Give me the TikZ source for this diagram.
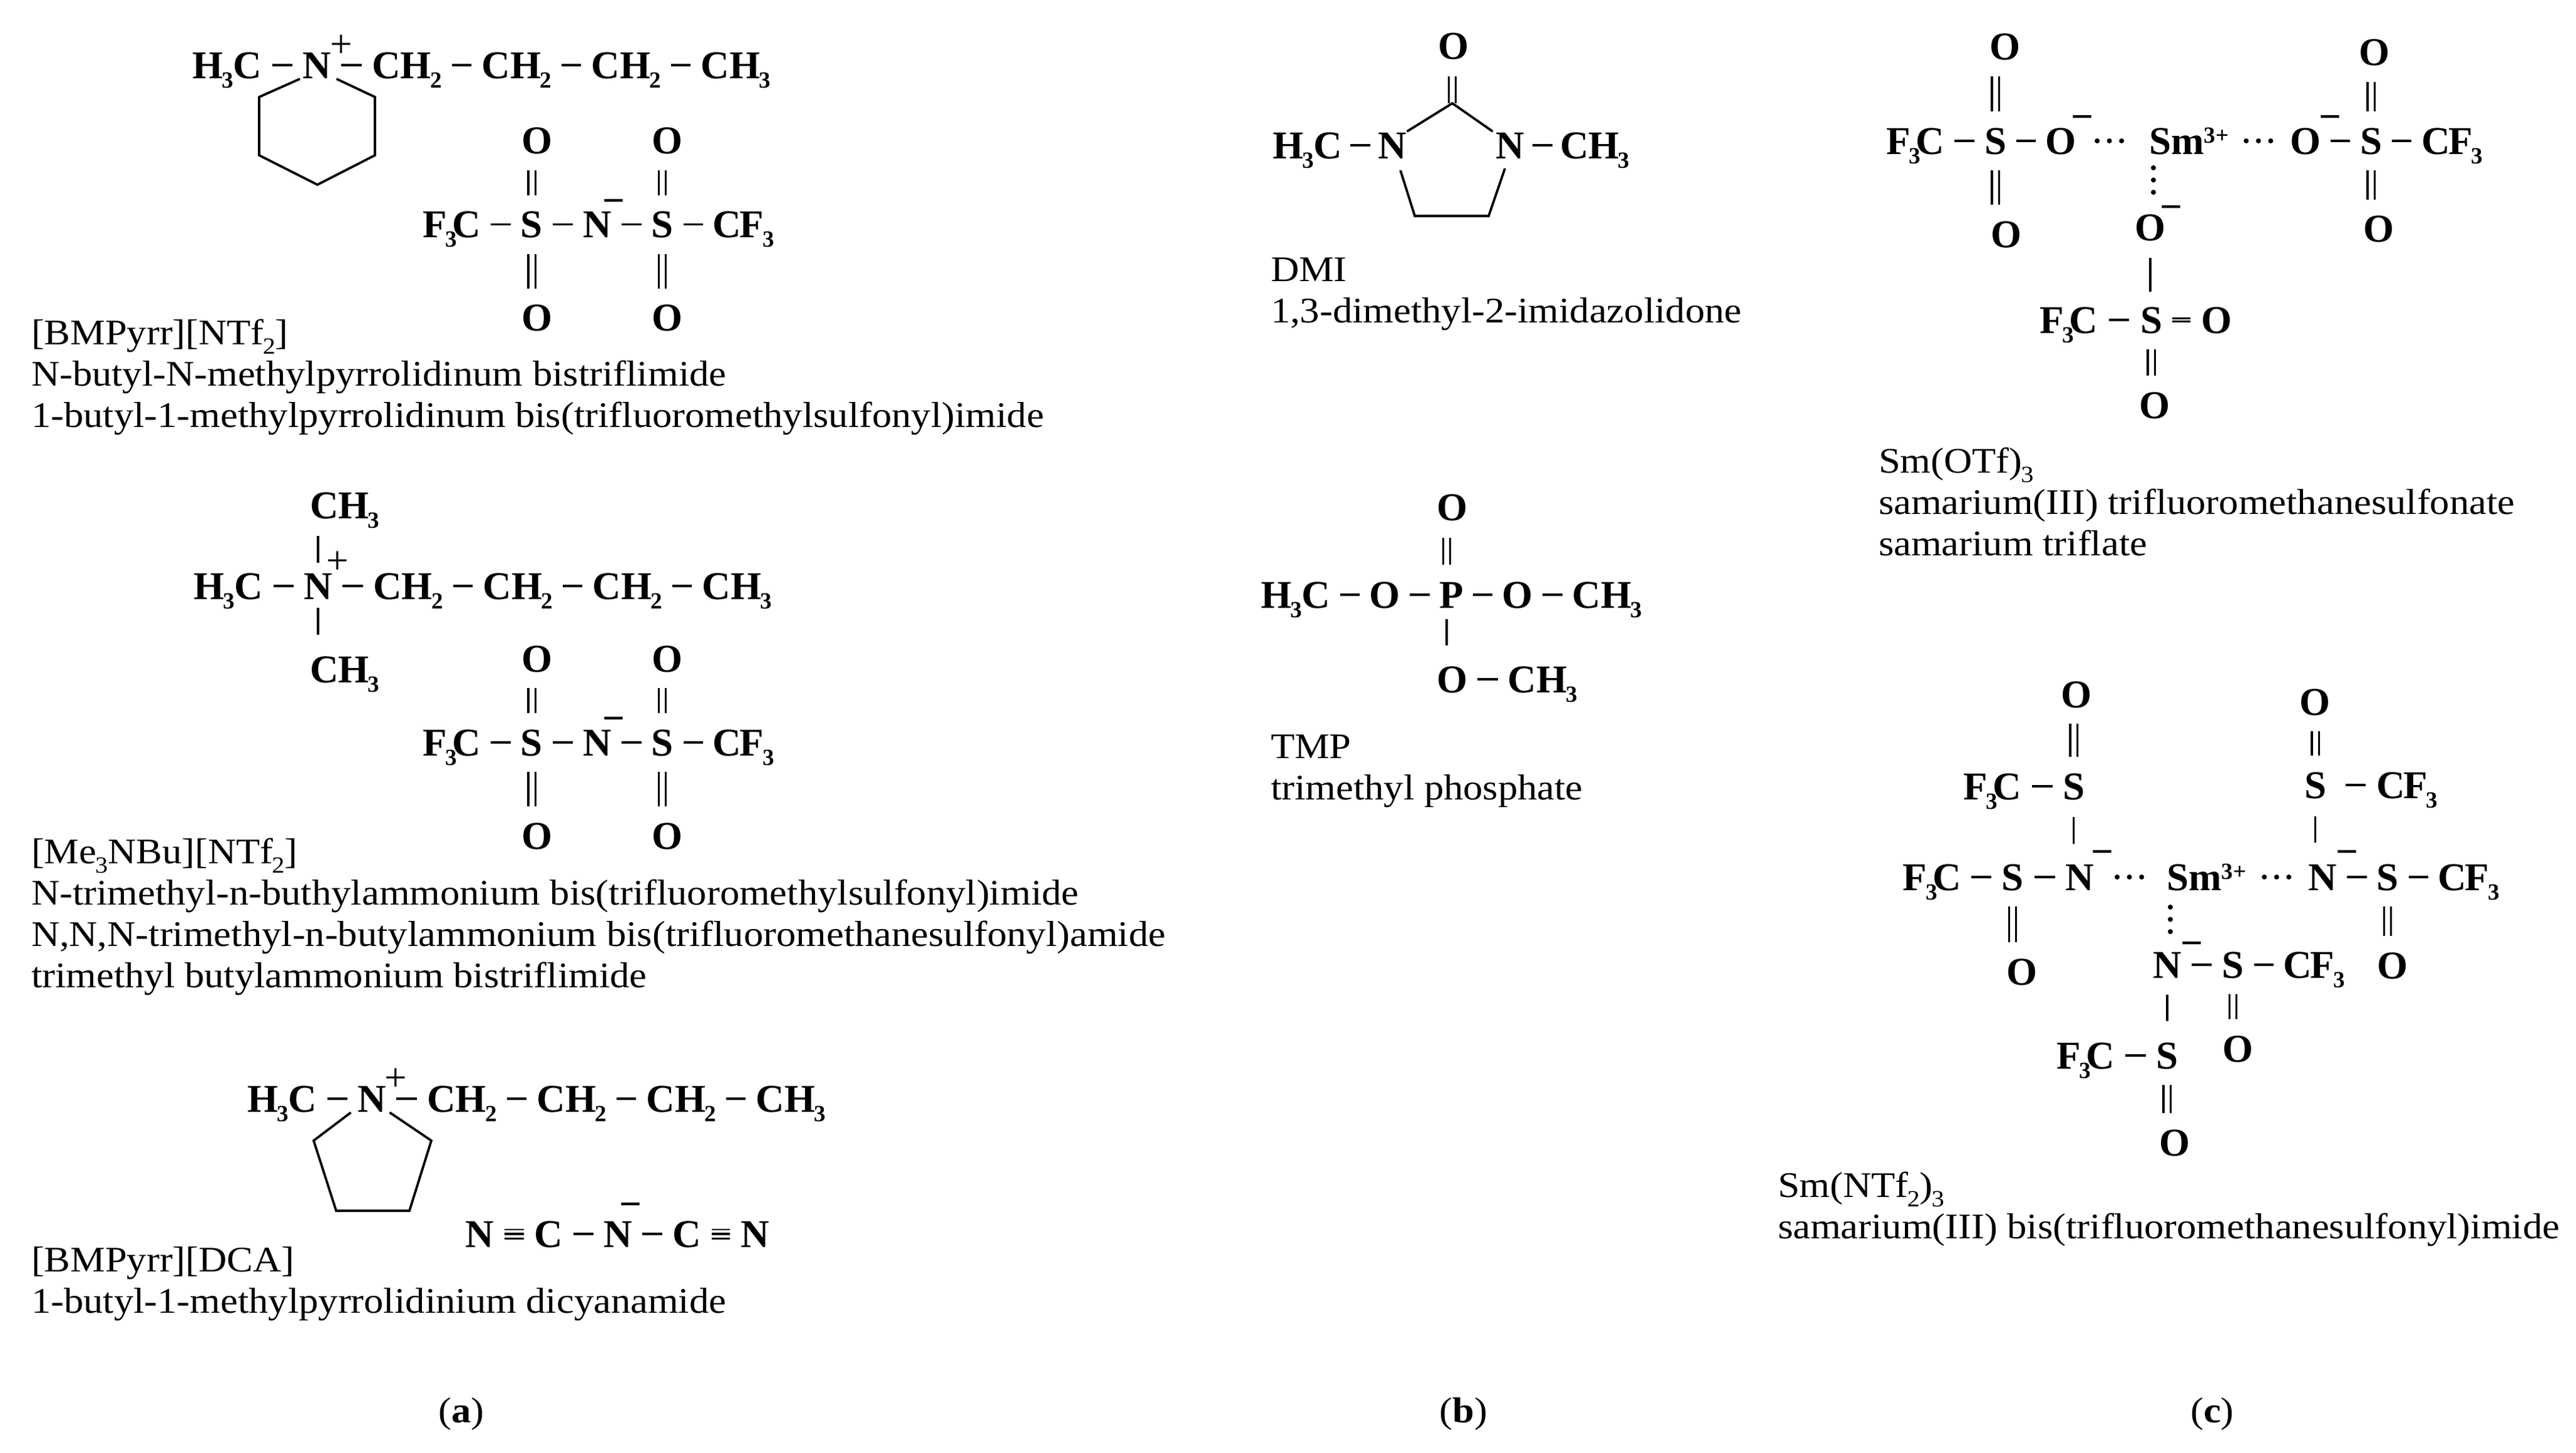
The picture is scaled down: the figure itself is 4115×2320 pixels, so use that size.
\documentclass[tikz,border=0pt]{standalone}
\usepackage{fontspec}
\setmainfont{Liberation Serif}[FakeStretch=1.088]
\newfontfamily\chemfont{Liberation Serif}
\usetikzlibrary{positioning}

\newcommand{\lowr}[1]{\kern-.4pt\raisebox{-3pt}{\fontsize{7.4}{7.4}\selectfont #1}}
\newcommand{\highr}[1]{\raisebox{3.6pt}{\fontsize{7.4}{7.4}\selectfont #1}}

\tikzset{
  atom/.style={font=\chemfont\bfseries\fontsize{12.6}{14}\selectfont, text height=8.4pt, text depth=0pt, inner sep=0pt},
  chgm/.style={font=\chemfont\bfseries\fontsize{12.6}{14}\selectfont, text height=6.6pt, text depth=0pt, inner sep=0pt},
  chgp/.style={font=\chemfont\fontsize{12.6}{14}\selectfont, inner sep=0pt},
  lbl/.style={font=\fontsize{11.5}{13.2}\selectfont, anchor=base west, inner sep=0pt, align=left},
  sbond/.style={line width=.7pt},
  bond/.style={line width=.7pt, shorten <=#1, shorten >=#1},
  bond/.default=3.1pt,
  dbond/.style={double, double distance=1.6pt, line width=.65pt, shorten <=#1, shorten >=#1},
  dbond/.default=5pt,
  tbond/.style={double, double distance=2.4pt, line width=.5pt, shorten <=3.2pt, shorten >=3.2pt},
  ring/.style={line width=.75pt, line join=miter},
  dots/.style={line width=1.6pt, line cap=round, dash pattern=on .01pt off 3.9pt}
}

\begin{document}
\begin{tikzpicture}[x=.2pt, y=-.2pt]
    \useasboundingbox (0,0) rectangle (4115,2320);

    % (a) cations
    \node [atom, anchor=west] (hca) at (306,104) {H\lowr{3}C};
    \node [atom, right=12.6pt of hca] (na) {N};
    \node [atom, anchor=west] (hcb) at (308,936) {H\lowr{3}C};
    \node [atom, right=12.6pt of hcb] (nb) {N};
    \node [atom, anchor=west] (hcc) at (394,1755) {H\lowr{3}C};
    \node [atom, right=12.6pt of hcc] (nc) {N};
    \foreach \p in {a,b,c} {
        \node [atom, right=12.8pt of n\p] (cha\p) {CH\lowr{2}};
        \node [atom, right=12.4pt of cha\p] (chb\p) {CH\lowr{2}};
        \node [atom, right=12.4pt of chb\p] (chc\p) {CH\lowr{2}};
        \node [atom, right=12.4pt of chc\p] (chd\p) {CH\lowr{3}};
        \draw [bond] (hc\p) -- (n\p);
        \draw [bond] (n\p) -- (cha\p);
        \draw [bond] (cha\p) -- (chb\p);
        \draw [bond] (chb\p) -- (chc\p);
        \draw [bond] (chc\p) -- (chd\p);
    }
    \node [chgp, xshift=3.2pt, yshift=1.6pt] (pa) at (na.north east) {+};
    \node [chgp, xshift=1.6pt, yshift=3pt] (pb) at (nb.north east) {+};
    \node [chgp, xshift=2.9pt, yshift=1.6pt] (pc) at (nc.north east) {+};

    % piperidine ring
    \coordinate (rb) at (414,155);
    \coordinate (rc) at (414,248);
    \coordinate (rd) at (507,295);
    \coordinate (re) at (599,248);
    \coordinate (rf) at (599,155);
    \draw [ring] ([xshift=-.6pt]na.south west) -- (rb) -- (rc) -- (rd) -- (re) -- (rf) -- ([xshift=1.6pt]na.south east);

    % methyls on the ammonium
    \node [atom, anchor=west] (mup) at (494,807) {CH\lowr{3}};
    \node [atom, anchor=west] (mdn) at (494,1069) {CH\lowr{3}};
    \draw [sbond, shorten <=3pt, shorten >=5.4pt] (nb.north) -- (nb.north |- mup.south);
    \draw [sbond, shorten <=2.6pt, shorten >=6.6pt] (nb.south) -- (nb.south |- mdn.north);

    % pyrrolidine ring
    \coordinate (sb) at (501,1822);
    \coordinate (sc) at (537,1934);
    \coordinate (sd) at (654,1934);
    \coordinate (se) at (689,1822);
    \draw [ring] ([xshift=-1.9pt]nc.south west) -- (sb) -- (sc) -- (sd) -- (se) -- ([xshift=1pt]nc.south east);

    % (a) bistriflimide anions
    \foreach \p/\yy in {a/358.5,b/1186} {
        \node [atom, anchor=west] (fl\p) at (674,\yy) {F\lowr{3}\kern-1.5pt C};
        \node [atom, right=12.4pt of fl\p] (sl\p) {S};
        \node [atom, right=12.4pt of sl\p] (nm\p) {N};
        \node [atom, right=12.4pt of nm\p] (sr\p) {S};
        \node [atom, right=12.2pt of sr\p] (fr\p) {C\kern-.5pt F\lowr{3}};
        \node [atom, above=18pt of sl\p, xshift=1.6pt] (olu\p) {O};
        \node [atom, below=21pt of sl\p, xshift=1.6pt] (old\p) {O};
        \node [atom, above=18pt of sr\p, xshift=1.6pt] (oru\p) {O};
        \node [atom, below=21pt of sr\p, xshift=1.6pt] (ord\p) {O};
        \node [chgm, xshift=.6pt, yshift=2.4pt] (mi\p) at (nm\p.north east) {−};
        \draw [bond=3pt] (fl\p) -- (sl\p);
        \draw [bond=3pt] (sl\p) -- (nm\p);
        \draw [bond=3pt] (nm\p) -- (sr\p);
        \draw [bond=3pt] (sr\p) -- (fr\p);
        \draw [dbond] (sl\p.north) -- (sl\p.north |- olu\p.south);
        \draw [dbond] (sl\p.south) -- (sl\p.south |- old\p.north);
        \draw [dbond] (sr\p.north) -- (sr\p.north |- oru\p.south);
        \draw [dbond] (sr\p.south) -- (sr\p.south |- ord\p.north);
    }

    % (a) dicyanamide
    \node [atom, anchor=west] (dna) at (742,1971) {N};
    \node [atom, right=12.6pt of dna] (dca) {C};
    \node [atom, right=12.6pt of dca] (dnb) {N};
    \node [atom, right=12.6pt of dnb] (dcb) {C};
    \node [atom, right=12.2pt of dcb] (dnc) {N};
    \node [chgm, xshift=-.6pt, yshift=4.2pt] (dmi) at (dnb.north east) {−};
    \draw [tbond] (dna) -- (dca);
    \draw [bond=3.2pt] (dna) -- (dca);
    \draw [bond] (dca) -- (dnb);
    \draw [bond] (dnb) -- (dcb);
    \draw [tbond] (dcb) -- (dnc);
    \draw [bond=3.2pt] (dcb) -- (dnc);

    % (a) labels
    \node [lbl] (la) at (49,682.5) {[BMPyrr][NTf\lowr{2}]\\N-butyl-N-methylpyrrolidinum bistriflimide\\1-butyl-1-methylpyrrolidinum bis(trifluoromethylsulfonyl)imide};
    \node [lbl] (lb) at (49,1577) {[Me\lowr{3}NBu][NTf\lowr{2}]\\N-trimethyl-n-buthylammonium bis(trifluoromethylsulfonyl)imide\\N,N,N-trimethyl-n-butylammonium bis(trifluoromethanesulfonyl)amide\\trimethyl butylammonium bistriflimide};
    \node [lbl] (lc) at (49,2097) {[BMPyrr][DCA]\\1-butyl-1-methylpyrrolidinium dicyanamide};

    % (b) DMI
    \node [atom, anchor=west] (ihc) at (2032,232) {H\lowr{3}C};
    \node [atom, right=11pt of ihc] (ina) {N};
    \node [atom, right=28.2pt of ina] (inb) {N};
    \node [atom, right=11pt of inb] (ich) {CH\lowr{3}};
    \node [atom] (ioo) at (2322,73.5) {O};
    \coordinate (icc) at (2320,165);
    \coordinate (ira) at (2237,272);
    \coordinate (irb) at (2260,345);
    \coordinate (irc) at (2378,345);
    \coordinate (ird) at (2404,269);
    \draw [bond=2.3pt] (ihc) -- (ina);
    \draw [bond=2.3pt] (inb) -- (ich);
    \draw [dbond=0pt, shorten >=5.3pt] (icc) -- (icc |- ioo.south);
    \draw [ring] (ina.north east) -- (icc) -- ([xshift=-.8pt]inb.north west);
    \draw [ring] (ira) -- (irb) -- (irc) -- (ird);
    \node [lbl] (ld) at (2029,515) {DMI\\1,3-dimethyl-2-imidazolidone};

    % (b) TMP
    \node [atom, anchor=west] (thc) at (2013,950) {H\lowr{3}C};
    \node [atom, right=12pt of thc] (toa) {O};
    \node [atom, right=12.2pt of toa] (tpp) {P};
    \node [atom, right=12pt of tpp] (tob) {O};
    \node [atom, right=12.2pt of tob] (tca) {CH\lowr{3}};
    \node [atom] (too) at (2320,810) {O};
    \node [atom] (toc) at (2320,1085) {O};
    \node [atom, right=12.4pt of toc] (tcb) {CH\lowr{3}};
    \draw [bond=2.9pt] (thc) -- (toa);
    \draw [bond=2.9pt] (toa) -- (tpp);
    \draw [bond=2.9pt] (tpp) -- (tob);
    \draw [bond=2.9pt] (tob) -- (tca);
    \draw [bond=2.9pt] (toc) -- (tcb);
    \draw [dbond=5.3pt] ([xshift=-1.5pt]tpp.north) -- ([xshift=-1.5pt]tpp.north |- too.south);
    \draw [sbond, shorten <=3.3pt, shorten >=6.4pt] ([xshift=-1.5pt]tpp.south) -- ([xshift=-1.5pt]tpp.south |- toc.north);
    \node [lbl] (le) at (2029,1277) {TMP\\trimethyl phosphate};

    % (c) samarium triflate
    \node [atom, anchor=west] (sma) at (3432,225) {Sm\highr{3+}};
    \node [atom, left=23pt of sma] (oal) {O};
    \node [atom, left=12pt of oal] (sal) {S};
    \node [atom, left=12.4pt of sal] (fal) {F\lowr{3}\kern-1.5pt C};
    \node [atom, right=19.2pt of sma] (oar) {O};
    \node [atom, right=12.2pt of oar] (sar) {S};
    \node [atom, right=12.2pt of sar] (far) {C\kern-.5pt F\lowr{3}};
    \node [atom] (oalu) at (3203,74.5) {O};
    \node [atom] (oald) at (3205,374) {O};
    \node [atom] (oaru) at (3793,83.5) {O};
    \node [atom] (oard) at (3800,365.5) {O};
    \node [atom] (oac) at (3435,363) {O};
    \node [atom, anchor=west] (sac) at (3418,511) {S};
    \node [atom, left=13.2pt of sac] (fac) {F\lowr{3}\kern-1.5pt C};
    \node [atom, right=12pt of sac] (oce) {O};
    \node [atom] (oad) at (3442,647) {O};
    \node [chgm, xshift=1.8pt, yshift=2.4pt] (miA) at (oal.north east) {−};
    \node [chgm, xshift=2.8pt, yshift=2.4pt] (miB) at (oar.north east) {−};
    \node [chgm, xshift=1.6pt, yshift=1.2pt] (miC) at (oac.north east) {−};
    \draw [bond=3pt] (fal) -- (sal);
    \draw [bond=2.9pt] (sal) -- (oal);
    \draw [bond=3pt] (oar) -- (sar);
    \draw [bond=3pt] (sar) -- (far);
    \draw [bond=3.4pt] (fac) -- (sac);
    \draw [dbond] (sal.north) -- (sal.north |- oalu.south);
    \draw [dbond] (sal.south) -- (sal.south |- oald.north);
    \draw [dbond] (sar.north) -- (sar.north |- oaru.south);
    \draw [dbond] (sar.south) -- (sar.south |- oard.north);
    \draw [sbond, shorten <=5.4pt, shorten >=4.6pt] (oac.south) -- (oac.south |- sac.north);
    \draw [dbond] (sac.south) -- (sac.south |- oad.north);
    \draw [double, double distance=.5pt, line width=.6pt, shorten <=3pt, shorten >=3.2pt] (sac) -- (oce);
    \draw [dots, shorten <=6.6pt, shorten >=8.4pt] (oal) -- (sma);
    \draw [dots, shorten <=5.4pt, shorten >=5.8pt] (sma) -- (oar);
    \coordinate (dta) at ([xshift=1.6pt]sma.south west);
    \draw [dots, shorten <=4.2pt, shorten >=5.2pt] (dta) -- (dta |- oac.north);
    \node [lbl] (lf) at (3000,887) {Sm(OTf)\lowr{3}\\samarium(III) trifluoromethanesulfonate\\samarium triflate};

    % (c) samarium bistriflimide
    \node [atom, anchor=west] (smb) at (3460,1401) {Sm\highr{3+}};
    \node [atom, left=22.8pt of smb] (nbl) {N};
    \node [atom, left=13pt of nbl] (sbl) {S};
    \node [atom, left=12.6pt of sbl] (fbl) {F\lowr{3}\kern-1.5pt C};
    \node [atom, right=19.4pt of smb] (nbr) {N};
    \node [atom, right=12.4pt of nbr] (sbr) {S};
    \node [atom, right=12.2pt of sbr] (fbr) {C\kern-.5pt F\lowr{3}};
    \node [atom, anchor=west] (stl) at (3294,1256) {S};
    \node [atom, left=12.8pt of stl] (ftl) {F\lowr{3}\kern-1.5pt C};
    \node [atom] (otl) at (3317,1109) {O};
    \node [atom, anchor=west] (str) at (3680,1254) {S};
    \node [atom, right=15.6pt of str] (ftr) {C\kern-.5pt F\lowr{3}};
    \node [atom] (otr) at (3698,1121) {O};
    \node [atom] (obl) at (3230,1552) {O};
    \node [atom] (obr) at (3822,1542) {O};
    \node [atom, anchor=west] (nbc) at (3438,1541) {N};
    \node [atom, right=12.6pt of nbc] (sbc) {S};
    \node [atom, right=12.2pt of sbc] (fbc) {C\kern-.5pt F\lowr{3}};
    \node [atom] (obc) at (3575,1675) {O};
    \node [atom, anchor=west] (sbd) at (3443,1686) {S};
    \node [atom, left=12.8pt of sbd] (fbd) {F\lowr{3}\kern-1.5pt C};
    \node [atom] (obd) at (3474,1825) {O};
    \node [chgm, xshift=2.4pt, yshift=2.8pt] (miD) at (nbl.north east) {−};
    \node [chgm, xshift=3.2pt, yshift=2.8pt] (miE) at (nbr.north east) {−};
    \node [chgm, xshift=3.2pt, yshift=1.6pt] (miF) at (nbc.north east) {−};
    \draw [bond=3.1pt] (fbl) -- (sbl);
    \draw [bond=3.2pt] (sbl) -- (nbl);
    \draw [bond=3pt] (nbr) -- (sbr);
    \draw [bond=3pt] (sbr) -- (fbr);
    \draw [bond=3.1pt] (ftl) -- (stl);
    \draw [sbond, shorten <=6pt, shorten >=3.2pt] (str) -- (ftr);
    \draw [bond=3.1pt] (nbc) -- (sbc);
    \draw [bond=3pt] (sbc) -- (fbc);
    \draw [bond=3.1pt] (fbd) -- (sbd);
    \draw [dbond] (stl.north) -- (stl.north |- otl.south);
    \draw [dbond] (str.north) -- (str.north |- otr.south);
    \draw [dbond] (sbl.south) -- (sbl.south |- obl.north);
    \draw [dbond] (sbr.south) -- (sbr.south |- obr.north);
    \draw [dbond] (sbc.south) -- (sbc.south |- obc.north);
    \draw [dbond] (sbd.south) -- (sbd.south |- obd.north);
    \draw [sbond, shorten <=5.4pt, shorten >=6.2pt] (stl.south) -- (stl.south |- nbl.north);
    \draw [sbond, shorten <=5.6pt, shorten >=6.6pt] (str.south) -- (str.south |- nbr.north);
    \draw [sbond, shorten <=5.2pt, shorten >=6.6pt] (nbc.south) -- (nbc.south |- sbd.north);
    \draw [dots, shorten <=7.2pt, shorten >=7.6pt] (nbl) -- (smb);
    \draw [dots, shorten <=5.6pt, shorten >=5.8pt] (smb) -- (nbr);
    \coordinate (dtb) at ([xshift=1.4pt]smb.south west);
    \draw [dots, shorten <=5.2pt, shorten >=4.6pt] (dtb) -- (dtb |- nbc.north);
    \node [lbl] (lg) at (2839,1978) {Sm(NTf\lowr{2})\lowr{3}\\samarium(III) bis(trifluoromethanesulfonyl)imide};

    % captions
    \node [lbl, anchor=base] (ca) at (737,2272) {(\textbf{a})};
    \node [lbl, anchor=base] (cb) at (2338,2272) {(\textbf{b})};
    \node [lbl, anchor=base] (cc) at (3534,2272) {(\textbf{c})};
\end{tikzpicture}
\end{document}
